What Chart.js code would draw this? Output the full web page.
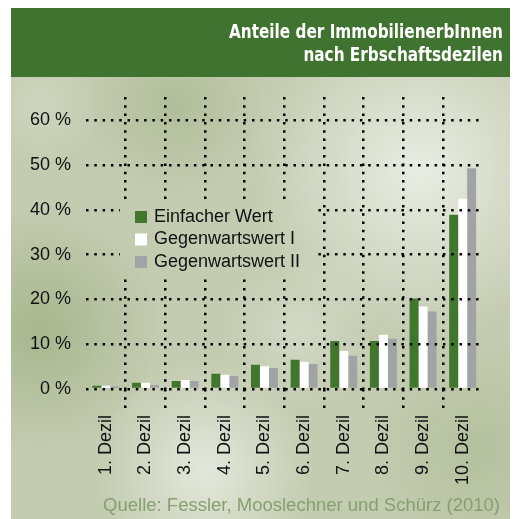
<!DOCTYPE html>
<html>
<head>
<meta charset="utf-8">
<script src="https://cdn.jsdelivr.net/npm/chart.js@4"></script>
<style>
  html, body { margin: 0; padding: 0; background: #fff; }
  #wrap { width: 517px; height: 519px; }
</style>
</head>
<body>
<div id="wrap"><canvas id="chart" width="517" height="519"></canvas></div>
<script>
const categories = ["1. Dezil", "2. Dezil", "3. Dezil", "4. Dezil", "5. Dezil",
  "6. Dezil", "7. Dezil", "8. Dezil", "9. Dezil", "10. Dezil"];
const einfacherWert = [0.7, 1.4, 1.8, 3.4, 5.4, 6.5, 10.7, 10.7, 20.2, 38.9];
const gegenwartswertI = [0.7, 1.4, 2.0, 3.2, 5.1, 6.1, 8.5, 12.1, 18.4, 42.5];
const gegenwartswertII = [0.6, 0.9, 1.8, 2.9, 4.7, 5.6, 7.4, 11.2, 17.3, 49.3];
const yTicks = [0, 10, 20, 30, 40, 50, 60];
const titleLines = ["Anteile der ImmobilienerbInnen", "nach Erbschaftsdezilen"];
const source = "Quelle: Fessler, Mooslechner und Schürz (2010)";

const FONT = "'Liberation Sans', Arial, sans-serif";
Chart.defaults.font.family = FONT;

// light and dark blotches of the photo background: x, y, radius, rgb, alpha
const spots = [
  [40, 330, 120, "158,176,130", 0.75],
  [175, 105, 90, "166,182,138", 0.6],
  [480, 450, 110, "170,186,144", 0.6],
  [420, 170, 170, "238,240,232", 0.9],
  [205, 470, 110, "234,237,228", 0.85],
  [300, 330, 80, "226,230,218", 0.5],
  [40, 105, 60, "214,220,202", 0.6]
];

function paintBg(ctx, x, y, w, h) {
  ctx.save();
  ctx.beginPath();
  ctx.rect(x, y, w, h);
  ctx.clip();
  ctx.fillStyle = "#c3cbb0";
  ctx.fillRect(11, 8, 499, 511);
  spots.forEach(function (s) {
    const g = ctx.createRadialGradient(s[0], s[1], 0, s[0], s[1], s[2]);
    g.addColorStop(0, "rgba(" + s[3] + "," + s[4] + ")");
    g.addColorStop(1, "rgba(" + s[3] + ",0)");
    ctx.fillStyle = g;
    ctx.fillRect(11, 8, 499, 511);
  });
  ctx.restore();
}

const framePlugin = {
  id: "frame",
  beforeDraw(chart) {
    const ctx = chart.ctx;
    ctx.save();
    ctx.fillStyle = "#fff";
    ctx.fillRect(0, 0, chart.width, chart.height);
    ctx.restore();
    paintBg(ctx, 11, 8, 499, 511);

    ctx.save();
    ctx.fillStyle = "#40732f";
    ctx.fillRect(11, 8, 499, 69);
    ctx.font = "bold 20px 'DejaVu Sans Condensed', 'DejaVu Sans', sans-serif";
    const sx = 274 / ctx.measureText(titleLines[0]).width;
    ctx.fillStyle = "#fff";
    ctx.textAlign = "right";
    ctx.textBaseline = "alphabetic";
    ctx.translate(503, 0);
    ctx.scale(sx, 1);
    ctx.fillText(titleLines[0], 0, 38);
    ctx.fillText(titleLines[1], 0, 61);
    ctx.restore();

    ctx.save();
    ctx.font = "18.5px " + FONT;
    ctx.fillStyle = "#87a070";
    ctx.textAlign = "right";
    ctx.textBaseline = "alphabetic";
    ctx.fillText(source, 500, 511);
    ctx.restore();
  },
  afterDraw(chart) {
    const ctx = chart.ctx;
    paintBg(ctx, 120, 199, 196, 77);
    ctx.save();
    ctx.font = "18px " + FONT;
    ctx.textBaseline = "middle";
    ctx.fillStyle = "#111";
    chart.data.datasets.forEach(function (ds, i) {
      const cy = 217 + i * 22.5;
      ctx.fillStyle = ds.backgroundColor;
      ctx.fillRect(135, cy - 6, 12, 12);
      ctx.fillStyle = "#111";
      ctx.fillText(ds.label, 154, cy);
    });
    ctx.restore();
  }
};

const dots = [2.5, 5.8];
const innerLine = function (c) {
  return (c.index > 0 && c.index < categories.length) ? "#000" : "rgba(0,0,0,0)";
};

new Chart(document.getElementById("chart"), {
  type: "bar",
  data: {
    labels: categories,
    datasets: [
      { label: "Einfacher Wert", data: einfacherWert, backgroundColor: "#41762f" },
      { label: "Gegenwartswert I", data: gegenwartswertI, backgroundColor: "#ffffff" },
      { label: "Gegenwartswert II", data: gegenwartswertII, backgroundColor: "#a2a3a5" }
    ]
  },
  options: {
    responsive: false,
    animation: false,
    layout: { padding: { left: 15, right: 34.5, top: 97, bottom: 27 } },
    datasets: { bar: { categoryPercentage: 0.68, barPercentage: 1 } },
    plugins: { legend: { display: false }, tooltip: { enabled: false } },
    scales: {
      x: {
        grid: {
          offset: true, z: 1, color: innerLine, tickColor: innerLine,
          lineWidth: 2.5, tickWidth: 2.5, tickLength: 19, tickBorderDash: dots
        },
        border: { display: false, dash: dots },
        ticks: { minRotation: 90, maxRotation: 90, padding: 7, color: "#111", font: { size: 18 } }
      },
      y: {
        min: 0,
        max: 65.2,
        afterBuildTicks: function (scale) {
          scale.ticks = yTicks.map(function (v) { return { value: v }; });
        },
        grid: { z: 1, color: "#000", lineWidth: 2.5, drawTicks: false },
        border: { display: false, dash: dots },
        ticks: {
          padding: 15, color: "#111", font: { size: 18 },
          callback: function (v) { return v + " %"; }
        }
      }
    }
  },
  plugins: [framePlugin]
});
</script>
</body>
</html>
